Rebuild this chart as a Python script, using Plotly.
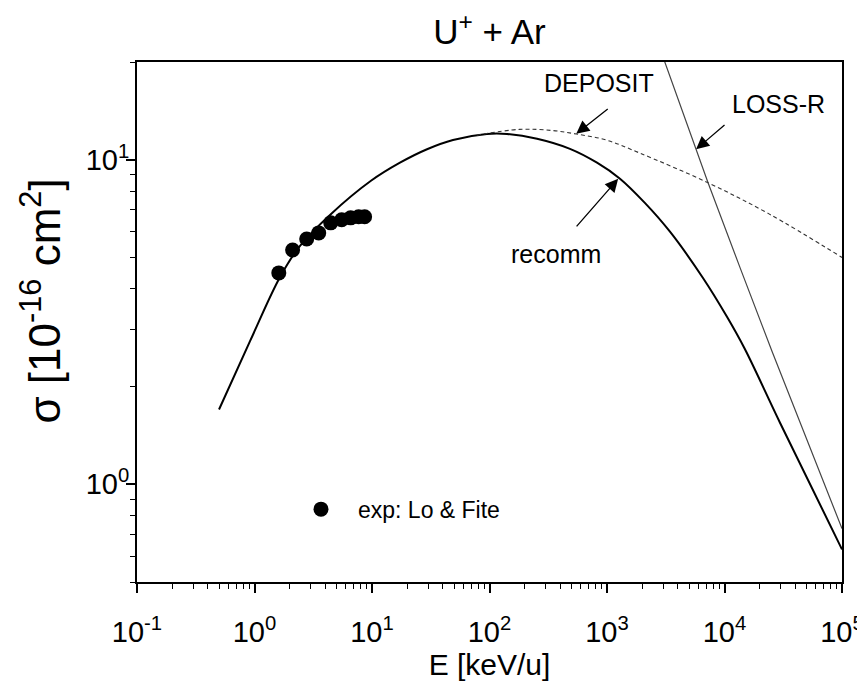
import numpy as np
import plotly.graph_objects as go

# ---- data ----
exp_E = [1.61, 2.11, 2.78, 3.52, 4.45, 5.52, 6.58, 7.69, 8.65]
exp_sigma = [4.48, 5.27, 5.70, 5.95, 6.39, 6.53, 6.62, 6.67, 6.67]

recomm_E = [0.499, 0.916, 1.65, 2.44, 4.39, 9.8, 17.3, 29.4, 48.9, 95,
            141, 254, 484, 822, 1290, 2100, 3435, 6560, 10500, 14900, 29600, 100000]
recomm_sigma = [1.70, 2.76, 4.35, 5.43, 6.76, 8.61, 9.79, 10.77, 11.5, 12.0,
                12.0, 11.6, 10.8, 9.79, 8.74, 7.36, 6.00, 4.32, 3.28, 2.61, 1.55, 0.63]

deposit_E = [78, 180, 342, 547, 984, 1880, 7244, 23900, 100000]
deposit_sigma = [11.9, 12.4, 12.3, 12.0, 11.5, 10.5, 8.49, 6.81, 5.0]

lossr_E = [3000, 7244, 25360, 100000]
lossr_sigma = [20.7, 8.49, 2.57, 0.73]

x_tick_vals = [0.1, 1, 10, 100, 1000, 10000, 100000]
x_tick_text = ["10<sup>-1</sup>", "10<sup>0</sup>", "10<sup>1</sup>", "10<sup>2</sup>",
               "10<sup>3</sup>", "10<sup>4</sup>", "10<sup>5</sup>"]
y_tick_vals = [1, 10]
y_tick_text = ["10<sup>0</sup>", "10<sup>1</sup>"]

FONT = "Liberation Sans, Arial, sans-serif"

minor_x = [m * 10.0 ** d for d in range(-1, 5) for m in range(2, 10)]
minor_y = [m * 10.0 ** d for d in range(-1, 2) for m in range(2, 10)]
minor_y = [v for v in minor_y if 0.5 <= v <= 20]

fig = go.Figure()

fig.add_trace(go.Scatter(x=recomm_E, y=recomm_sigma, mode="lines",
                         line=dict(color="black", width=2, shape="spline", smoothing=1.0),
                         showlegend=False, hoverinfo="skip"))
fig.add_trace(go.Scatter(x=deposit_E, y=deposit_sigma, mode="lines",
                         line=dict(color="#333333", width=1.1, dash="4px,3px",
                                   shape="spline", smoothing=1.0),
                         showlegend=False, hoverinfo="skip"))
fig.add_trace(go.Scatter(x=lossr_E, y=lossr_sigma, mode="lines",
                         line=dict(color="#444444", width=1.2, shape="spline", smoothing=0.6),
                         showlegend=False, hoverinfo="skip"))
fig.add_trace(go.Scatter(x=exp_E, y=exp_sigma, mode="markers",
                         marker=dict(color="black", size=15, symbol="circle"),
                         name="exp: Lo &amp; Fite", showlegend=True))

def arrow(tail, tip):
    return dict(x=tip[0], y=tip[1], ax=tail[0], ay=tail[1], xref="x", yref="y",
                axref="x", ayref="y", text="", showarrow=True, arrowhead=2,
                arrowsize=2.0, arrowwidth=1.3, arrowcolor="black", standoff=0)

def label(x, y, txt):
    return dict(x=x, y=y, xref="x", yref="y", text=txt, showarrow=False,
                font=dict(family=FONT, size=25, color="black"))

annotations = [
    label(2.934, 1.235, "DEPOSIT"),
    label(4.463, 1.173, "LOSS-R"),
    label(2.568, 0.710, "recomm"),
    arrow((3.019, 1.160), (2.738, 1.080)),
    arrow((4.013, 1.111), (3.758, 1.032)),
    arrow((2.730, 0.790), (3.095, 0.941)),
    dict(x=-0.137, y=0.54, xref="paper", yref="paper", textangle=-90,
         text="σ [10<sup>-16</sup> cm<sup>2</sup>]", showarrow=False,
         xanchor="center", yanchor="middle",
         font=dict(family=FONT, size=44, color="black")),
]

axis_common = dict(type="log", showgrid=False, zeroline=False, showline=True,
                   linecolor="black", linewidth=2, mirror=True, ticks="outside",
                   ticklen=9, tickwidth=1.5, tickcolor="black", automargin=False,
                   tickfont=dict(family=FONT, size=29, color="black"))

fig.update_layout(
    width=857, height=684,
    margin=dict(l=129, r=23, t=54, b=110),
    paper_bgcolor="white", plot_bgcolor="white",
    font=dict(family=FONT, color="black"),
    title=dict(text="U<sup>+</sup> + Ar", x=0.5, xref="paper", y=0.965, yanchor="middle",
               font=dict(family=FONT, size=35, color="black")),
    xaxis=dict(**axis_common, range=[-1, 5], tickmode="array", tickvals=x_tick_vals,
               ticktext=x_tick_text, ticklabelstandoff=14,
               minor=dict(tickmode="array", tickvals=minor_x, ticks="outside", ticklen=5,
                          tickwidth=1.2, tickcolor="black", showgrid=False),
               title=dict(text="E [keV/u]", font=dict(family=FONT, size=30), standoff=3)),
    yaxis=dict(**axis_common, range=[np.log10(0.5), np.log10(20)], tickmode="array",
               tickvals=y_tick_vals, ticktext=y_tick_text, ticklabelstandoff=-9,
               minor=dict(tickmode="array", tickvals=minor_y, ticks="outside", ticklen=5,
                          tickwidth=1.2, tickcolor="black", showgrid=False)),
    legend=dict(x=0.2085, y=0.14, xanchor="left", yanchor="middle", itemwidth=64,
                bgcolor="rgba(0,0,0,0)", font=dict(family=FONT, size=23, color="black"),
                itemsizing="trace"),
    annotations=annotations,
)

fig.write_html("out.html")
